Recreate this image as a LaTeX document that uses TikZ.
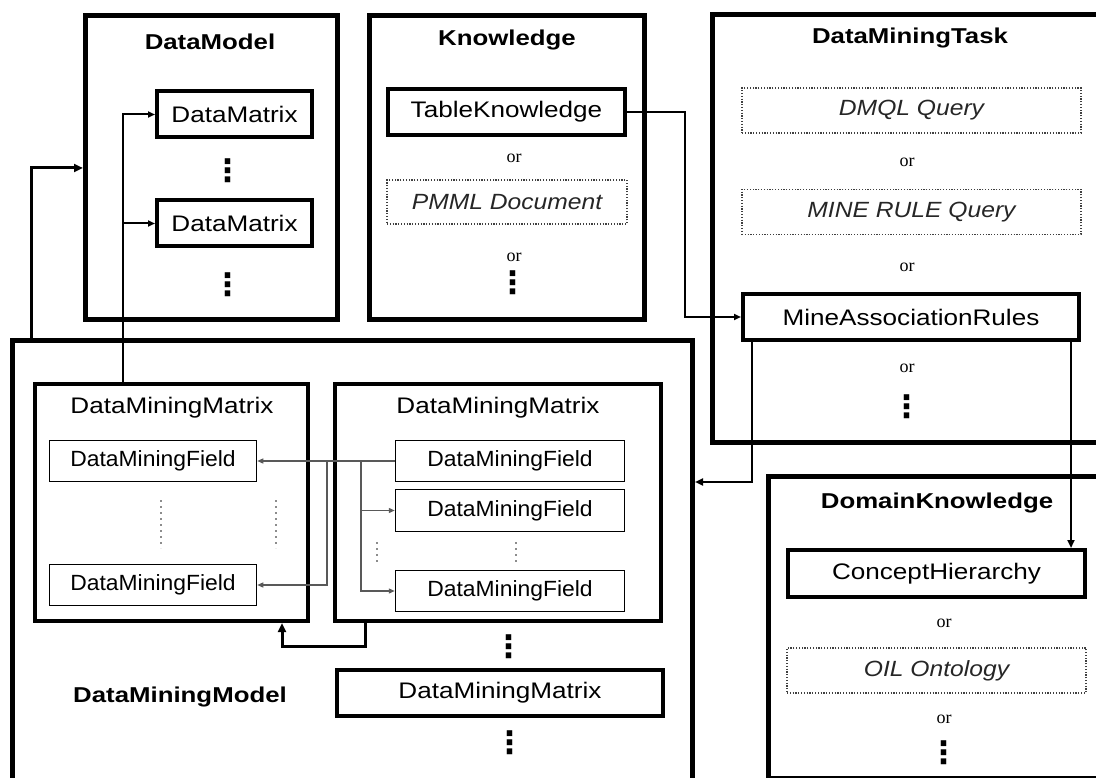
\documentclass[tikz,border=0pt]{standalone}
\usepackage{fontspec}
\setmainfont{Liberation Sans}
\newfontfamily\regf{Liberation Sans}[FakeStretch=1.16]
\newfontfamily\fieldf{Liberation Sans}[FakeStretch=1.04]
\newfontfamily\boldf{Liberation Sans}[FakeStretch=1.2]
\newfontfamily\itf{Liberation Sans}[FakeStretch=1.12]
\newfontfamily\orf{Liberation Serif}
\newfontfamily\dotf{DejaVu Sans}
\usetikzlibrary{arrows.meta}
\tikzset{
  outerbox/.style={draw, line width=5pt, inner sep=0pt, rectangle},
  thickbox/.style={draw, line width=4pt, inner sep=0pt, rectangle, font=\regf\fontsize{22.5}{26}\selectfont},
  fieldbox/.style={draw, line width=1.5pt, inner sep=0pt, rectangle, font=\fieldf\fontsize{22}{26}\selectfont},
  altbox/.style={draw=black!75, dash pattern=on 1.2pt off 1.6pt, line width=1.2pt, inner sep=0pt, rectangle, font=\itf\itshape\fontsize{22}{26}\selectfont, text=black!85},
  titlelbl/.style={inner sep=0pt, font=\boldf\bfseries\fontsize{21.5}{26}\selectfont},
  reglbl/.style={inner sep=0pt, font=\regf\fontsize{22.5}{26}\selectfont},
  orlbl/.style={inner sep=0pt, font=\orf\fontsize{18}{20}\selectfont},
  vdlbl/.style={inner sep=0pt, font=\dotf\bfseries\fontsize{31}{34}\selectfont, yscale=1},
  connA/.style={line width=3pt, -{Triangle[length=9pt,width=8pt]}},
  connB/.style={line width=2pt, -{Triangle[length=7pt,width=6pt]}},
  connC/.style={line width=1.2pt, draw=black!65, -{Triangle[length=6pt,width=5pt]}},
  gdots/.style={draw=black!45, line width=2pt, dash pattern=on 2pt off 4pt},
}
\begin{document}
\begin{tikzpicture}[x=1pt,y=-1pt]
\useasboundingbox (0,0) rectangle (1096,778);
\clip (0,0) rectangle (1096,778);
\fill[white] (0,0) rectangle (1096,778);

% ---------- outer boxes ----------
\node[outerbox, minimum width=252, minimum height=304] (dm) at (211.5,167.5) {};
\node[outerbox, minimum width=275, minimum height=304] (kn) at (507,167.5) {};
\node[outerbox, minimum width=397.5, minimum height=428] (dmt) at (911.25,228.5) {};
\node[outerbox, minimum width=680, minimum height=480] (dmm) at (352.5,580.5) {};
\node[outerbox, minimum width=341.5, minimum height=302] (dk) at (939.25,627.5) {};

% ---------- titles ----------
\node[titlelbl] (tdm) at (210,42) {DataModel};
\node[titlelbl] (tkn) at (507,40) {Knowledge};
\node[titlelbl] (tdmt) at (910,38) {DataMiningTask};
\node[titlelbl] (tdk) at (937,503) {DomainKnowledge};
\node[titlelbl] (tdmm) at (180,697) {DataMiningModel};

% ---------- DataModel content ----------
\node[thickbox, minimum width=155, minimum height=46] (dmx1) at (234.5,114.5) {DataMatrix};
\node[thickbox, minimum width=155, minimum height=46] (dmx2) at (234.5,223.5) {DataMatrix};
\node[vdlbl] (vd1) at (228,171) {⋮};
\node[vdlbl] (vd2) at (228,285) {⋮};

% ---------- Knowledge content ----------
\node[thickbox, minimum width=237, minimum height=46] (tk) at (506.5,112) {TableKnowledge};
\node[orlbl] (or1) at (514,158) {or};
\node[altbox, minimum width=240, minimum height=44] (pmml) at (507,202) {PMML Document};
\node[orlbl] (or2) at (514,257) {or};
\node[vdlbl] (vd3) at (513,283) {⋮};

% ---------- DataMiningTask content ----------
\node[altbox, minimum width=339, minimum height=45] (dmql) at (911.5,110.5) {DMQL Query};
\node[orlbl] (or3) at (907,162) {or};
\node[altbox, minimum width=339, minimum height=45] (mrq) at (911.5,212) {MINE RULE Query};
\node[orlbl] (or4) at (907,267) {or};
\node[thickbox, minimum width=336, minimum height=46] (mar) at (911,317) {MineAssociationRules};
\node[orlbl] (or5) at (907,368) {or};
\node[vdlbl] (vd4) at (907,407) {⋮};

% ---------- DomainKnowledge content ----------
\node[thickbox, minimum width=297, minimum height=47] (ch) at (936.5,573.5) {ConceptHierarchy};
\node[orlbl] (or6) at (944,623) {or};
\node[altbox, minimum width=299, minimum height=45] (oil) at (936.5,670.5) {OIL Ontology};
\node[orlbl] (or7) at (944,719) {or};
\node[vdlbl] (vd5) at (944,753) {⋮};

% ---------- DataMiningModel content ----------
\node[thickbox, minimum width=273, minimum height=237] (mA) at (171.5,502.5) {};
\node[reglbl] (tmA) at (172,408) {DataMiningMatrix};
\node[fieldbox, minimum width=207, minimum height=41] (fA) at (153,461) {DataMiningField};
\node[fieldbox, minimum width=207, minimum height=41] (fB) at (153,585) {DataMiningField};

\node[thickbox, minimum width=326, minimum height=237] (mB) at (498,502.5) {};
\node[reglbl] (tmB) at (498,408) {DataMiningMatrix};
\node[fieldbox, minimum width=229, minimum height=41] (r1) at (510,461) {DataMiningField};
\node[fieldbox, minimum width=229, minimum height=42] (r2) at (510,510.5) {DataMiningField};
\node[fieldbox, minimum width=229, minimum height=41] (r3) at (510,591) {DataMiningField};

\node[vdlbl] (vd6) at (509,647) {⋮};
\node[thickbox, minimum width=326, minimum height=46] (mC) at (500,693) {DataMiningMatrix};
\node[vdlbl] (vd7) at (510,743) {⋮};

% gray dotted continuation marks
\draw[gdots] (161,500) -- (161,548);
\draw[gdots] (276,500) -- (276,548);
\draw[gdots] (377,542) -- (377,562);
\draw[gdots] (516,542) -- (516,562);

% ---------- connectors ----------
\coordinate (c1) at (31,168);
\draw[connA] (c1 |- dmm.north) -- (c1) -- (c1 -| dm.west);

\coordinate (c2) at (123,300);
\draw[connB] (c2 |- mA.north) |- (dmx1.west);
\draw[connB] (c2 |- dmx2.west) -- (dmx2.west);

\coordinate (c3) at (685,200);
\draw[connB] (tk.east) -- (tk.east -| c3) |- (mar.west);

\coordinate (c4) at (752,482);
\draw[line width=2.5pt, -{Triangle[length=8pt,width=7pt]}] (c4 |- mar.south) -- (c4) -- (c4 -| dmm.east);

\coordinate (c5) at (1071,450);
\draw[line width=2.5pt, -{Triangle[length=8pt,width=7pt]}] (c5 |- mar.south) -- (c5 |- ch.north);

\coordinate (c6) at (327,500);
\coordinate (c7) at (361,500);
\draw[connC] (r1.west) -- (fA.east);
\draw[connC] (c6 |- r1.west) |- (fB.east);
\draw[connC] (c7 |- r1.west) |- (r3.west);
\draw[connC] (c7 |- r2.west) -- (r2.west);

\coordinate (c8) at (365,646);
\coordinate (c9) at (282,646);
\draw[connA] (c8 |- mB.south) -- (c8) -- (c9) -- (c9 |- mA.south);
\end{tikzpicture}
\end{document}
